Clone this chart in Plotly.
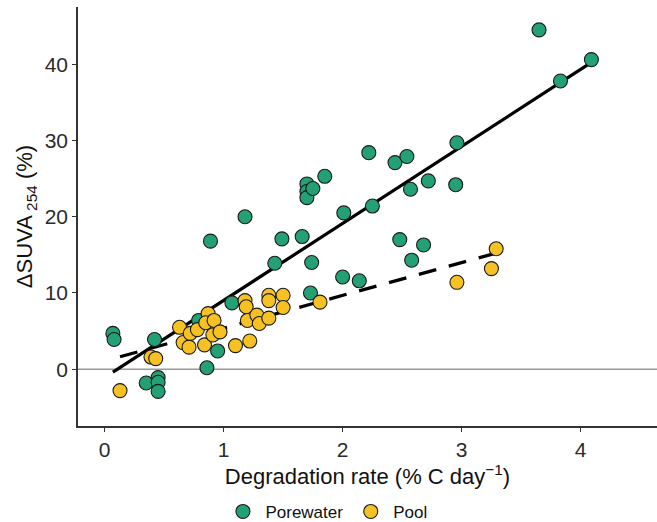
import numpy as np
import plotly.graph_objects as go

# Degradation rate (% C per day) and change in SUVA254 (%) for each sample
porewater_rate = [0.07, 0.08, 0.42, 0.35, 0.45, 0.45, 0.45, 0.86, 0.79, 0.95, 1.07, 1.73,
                  0.89, 1.18, 1.49, 1.66, 1.43, 1.74, 1.70, 1.70, 1.70, 1.75, 1.85, 2.01,
                  2.00, 2.22, 2.44, 2.54, 2.57, 2.72, 2.96, 2.95, 2.25, 2.48, 2.68, 2.58,
                  2.14, 3.65, 3.83, 4.09]
porewater_dsuva = [4.7, 3.9, 3.9, -1.8, -1.1, -1.7, -2.9, 0.2, 6.4, 2.4, 8.7, 10.0,
                   16.8, 20.0, 17.1, 17.4, 13.9, 14.0, 24.3, 23.3, 22.5, 23.7, 25.3, 20.5,
                   12.1, 28.4, 27.1, 27.9, 23.6, 24.7, 29.7, 24.2, 21.4, 17.0, 16.3, 14.3,
                   11.6, 44.5, 37.8, 40.6]

pool_rate = [0.13, 0.39, 0.43, 0.63, 0.66, 0.71, 0.72, 0.78, 0.84, 0.87, 0.85, 0.92,
             0.91, 0.97, 1.10, 1.22, 1.18, 1.19, 1.20, 1.28, 1.30, 1.38, 1.38, 1.38,
             1.50, 1.50, 1.81, 2.96, 3.25, 3.29]
pool_dsuva = [-2.8, 1.6, 1.4, 5.5, 3.5, 2.9, 4.7, 5.2, 3.2, 7.3, 6.1, 6.4,
              4.5, 4.9, 3.1, 3.7, 9.0, 8.2, 6.4, 7.1, 6.0, 6.7, 9.7, 9.0,
              9.7, 8.1, 8.8, 11.4, 13.2, 15.8]

x_ticks = [0, 1, 2, 3, 4]
y_ticks = [0, 10, 20, 30, 40]

GREEN = "#23A074"
YELLOW = "#F6C223"
INK = "#1a1a1a"


def linear_fit(x, y):
    slope, intercept = np.polyfit(x, y, 1)
    xs = np.array([min(x), max(x)])
    return xs, slope * xs + intercept


fig = go.Figure()

# zero reference line
fig.add_hline(y=0, line=dict(color="#9a9a9a", width=1.5), layer="below")

pw_x, pw_y = linear_fit(porewater_rate, porewater_dsuva)
pl_x, pl_y = linear_fit(pool_rate, pool_dsuva)

fig.add_trace(go.Scatter(x=pw_x, y=pw_y, mode="lines", showlegend=False,
                         line=dict(color="black", width=3.2), hoverinfo="skip"))
fig.add_trace(go.Scatter(x=pl_x, y=pl_y, mode="lines", showlegend=False,
                         line=dict(color="black", width=3.2, dash="18px,13px"),
                         hoverinfo="skip"))

marker_line = dict(color=INK, width=1.1)
fig.add_trace(go.Scatter(x=porewater_rate, y=porewater_dsuva, mode="markers",
                         name="Porewater",
                         marker=dict(color=GREEN, size=14, line=marker_line)))
fig.add_trace(go.Scatter(x=pool_rate, y=pool_dsuva, mode="markers", name="Pool",
                         marker=dict(color=YELLOW, size=14, line=marker_line)))

axis_common = dict(
    showgrid=False, zeroline=False, showline=True, linecolor="#333333", linewidth=1.5,
    ticks="outside", ticklen=4, tickwidth=1.2, tickcolor="#333333",
    tickfont=dict(size=21, color="#2b2b2b"), mirror=False,
)

fig.update_xaxes(range=[-0.223, 4.641], tickvals=x_ticks,
                 title=dict(text="Degradation rate (% C day<sup>−1</sup>)",
                            font=dict(size=22, color="#111111"), standoff=9),
                 **axis_common)
fig.update_yaxes(range=[-7.44, 47.5], tickvals=y_ticks, ticklabelstandoff=0,
                 title=dict(text="ΔSUVA<sub> 254</sub> (%)",
                            font=dict(size=22, color="#111111"), standoff=6),
                 **axis_common)

fig.update_layout(
    width=657, height=522,
    margin=dict(l=78, r=0, t=7, b=96, autoexpand=False),
    paper_bgcolor="white", plot_bgcolor="white",
    font=dict(family="Liberation Sans, Arial, sans-serif"),
    legend=dict(orientation="h", x=0.246, xanchor="left", y=-0.205, yanchor="middle",
                font=dict(size=17, color="#111111"), itemwidth=35),
)

fig.write_html("out.html")
